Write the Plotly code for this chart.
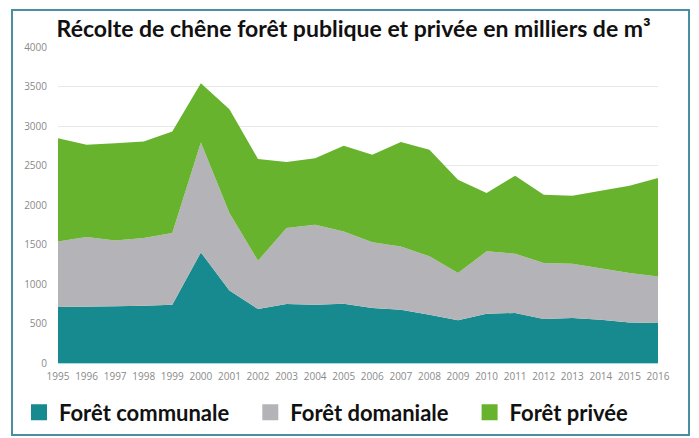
import plotly.graph_objects as go

# ---------- données (milliers de m3) ----------
annees = list(range(1995, 2017))
communale = [708, 708, 717, 725, 738, 1400, 919, 683, 746, 738, 751, 696, 675, 611, 540, 624, 633, 557, 570, 548, 514, 506]
domaniale = [831, 886, 835, 856, 907, 1392, 979, 612, 962, 1012, 915, 831, 801, 739, 599, 789, 750, 709, 687, 654, 625, 590]
privee = [1307, 1168, 1231, 1223, 1286, 750, 1315, 1286, 835, 843, 1084, 1109, 1321, 1350, 1181, 738, 988, 864, 861, 979, 1105, 1245]

series = [
    ("Forêt communale", communale, "#168a8e"),
    ("Forêt domaniale", domaniale, "#b4b3b7"),
    ("Forêt privée", privee, "#67b32e"),
]
# espacement des entrées de légende (espaces insécables)
pad = [3, 3, 0]

fig = go.Figure()

# aires empilées
for nom, vals, couleur in series:
    fig.add_trace(go.Scatter(
        x=annees, y=vals, name=nom, stackgroup="a",
        mode="lines", line=dict(width=0, color=couleur),
        fillcolor=couleur, showlegend=False,
    ))

# légende avec carrés
for (nom, vals, couleur), n in zip(series, pad):
    fig.add_trace(go.Scatter(
        x=[None], y=[None], name=nom + "\u00a0" * n, mode="markers",
        marker=dict(symbol="square", size=16, color=couleur),
    ))

fig.update_layout(
    width=699, height=438,
    paper_bgcolor="white", plot_bgcolor="white",
    margin=dict(l=58, r=41, t=47, b=75, autoexpand=False),
    title=dict(
        text="<b>Récolte de chêne forêt publique et privée en milliers de m³</b>",
        x=0.506, xanchor="center", y=0.935, yanchor="middle",
        font=dict(family="Lato", size=23, color="#111111"),
    ),
    legend=dict(
        orientation="h", x=-0.065, xanchor="left", y=-0.09, yanchor="top",
        font=dict(family="Lato", size=22, color="#111111", weight="bold"),
        itemwidth=30, traceorder="normal", bgcolor="rgba(0,0,0,0)",
    ),
    showlegend=True,
)

fig.update_xaxes(
    range=[1995, 2016], tickmode="linear", dtick=1,
    showgrid=False, zeroline=False, showline=False,
    tickfont=dict(family="Open Sans", size=10, color="#8a8a8a"),
    ticklabelstandoff=6,
)
fig.update_yaxes(
    range=[0, 4000], dtick=500,
    showgrid=True, gridcolor="#e8e8e8", gridwidth=1,
    zeroline=True, zerolinecolor="#a6dbe2", zerolinewidth=1,
    tickfont=dict(family="Open Sans", size=10, color="#8a8a8a"),
    ticklabelstandoff=10,
)

# cadre autour du graphique
fig.add_shape(
    type="rect", xref="paper", yref="paper",
    x0=(12 - 58) / 600, x1=(689 - 58) / 600,
    y0=(363 - 435) / 316, y1=(363 - 10) / 316,
    line=dict(color="#4a8ea2", width=2), layer="above",
)

# la page garde sinon une marge de 8 px autour du graphique
fig.write_html(
    "out.html",
    config={"displayModeBar": False},
    post_script="document.body.style.margin='0px';",
)
